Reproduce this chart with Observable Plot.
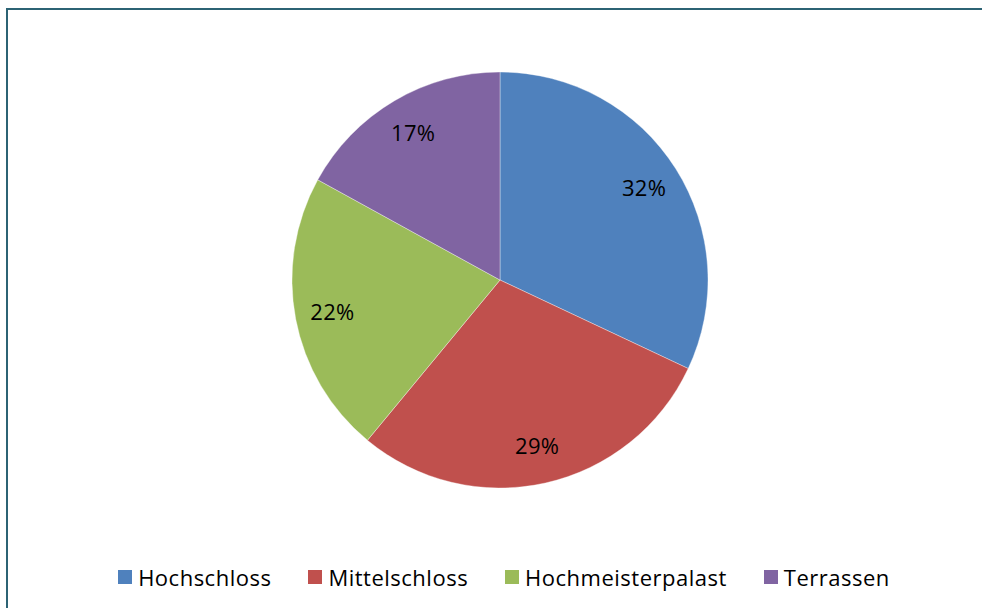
<!DOCTYPE html>
<html>
<head>
<meta charset="utf-8">
<script src="https://cdn.jsdelivr.net/npm/d3@7"></script>
<script src="https://cdn.jsdelivr.net/npm/@observablehq/plot@0.6"></script>
<style>
  html, body { margin: 0; padding: 0; background: #fff; }
  body { width: 982px; height: 608px; position: relative; overflow: hidden; font-family: "Open Sans", sans-serif; }
  #frame { position: absolute; left: 6px; top: 8px; width: 1000px; height: 700px; border-left: 2px solid #2c6374; border-top: 2px solid #2c6374; }
  #chart { position: absolute; left: 0; top: 0; }
  #legend { position: absolute; left: 0; top: 562px; width: 982px; display: flex; justify-content: center; padding-left: 26px; box-sizing: border-box; }
  .lg-swatches { display: flex !important; align-items: center; font-family: "Open Sans", sans-serif !important; font-size: 22px !important; letter-spacing: 0.5px; color: #000 !important; margin: 0 !important; min-height: 28px; }
  .lg-swatch { display: inline-flex !important; align-items: center; margin-right: 37px !important; }
  .lg-swatch:last-child { margin-right: 0 !important; }
  .lg-swatch svg { margin-right: 6px !important; }
</style>
</head>
<body>
<div id="frame"></div>
<div id="chart"></div>
<div id="legend"></div>
<script>
const categories = ["Hochschloss", "Mittelschloss", "Hochmeisterpalast", "Terrassen"];
const shares = [32, 29, 22, 17];
const colors = ["#4F81BD", "#C0504D", "#9BBB59", "#8064A2"];

const data = categories.map((c, i) => ({category: c, value: shares[i]}));
const colorScale = Plot.scale({color: {type: "ordinal", domain: categories, range: colors}});

function pieMark(index, scales, values, dimensions) {
  const {width, height, marginTop, marginRight, marginBottom, marginLeft} = dimensions;
  const iw = width - marginLeft - marginRight;
  const ih = height - marginTop - marginBottom;
  const cx = marginLeft + iw / 2;
  const cy = marginTop + ih / 2;
  const r = Math.min(iw, ih) / 2;
  const arcs = d3.pie().sort(null).value(d => d.value)(data);
  const arc = d3.arc().innerRadius(0).outerRadius(r);
  const labelArc = d3.arc().innerRadius(r * 0.82).outerRadius(r * 0.82);
  const g = d3.create("svg:g").attr("transform", `translate(${cx},${cy})`);
  g.selectAll("path").data(arcs).join("path")
    .attr("d", arc)
    .attr("fill", d => colorScale.apply(d.data.category))
    .attr("stroke", "#ffffff")
    .attr("stroke-opacity", 0.6)
    .attr("stroke-width", 0.6);
  g.selectAll("text").data(arcs).join("text")
    .attr("transform", d => `translate(${labelArc.centroid(d)})`)
    .attr("text-anchor", "middle")
    .attr("dy", "0.35em")
    .attr("font-family", "Open Sans, sans-serif")
    .attr("font-size", 22)
    .attr("letter-spacing", 0.3)
    .attr("fill", "#000")
    .text(d => `${d.data.value}%`);
  return g.node();
}

const chart = Plot.plot({
  width: 982,
  height: 500,
  marginTop: 72,
  marginBottom: 12,
  marginLeft: 292,
  marginRight: 274,
  style: {background: "transparent", overflow: "visible"},
  marks: [pieMark]
});
document.getElementById("chart").append(chart);

const legend = Plot.legend({
  color: {type: "ordinal", domain: categories, range: colors},
  swatchSize: 14,
  className: "lg"
});
document.getElementById("legend").append(legend);
</script>
</body>
</html>
